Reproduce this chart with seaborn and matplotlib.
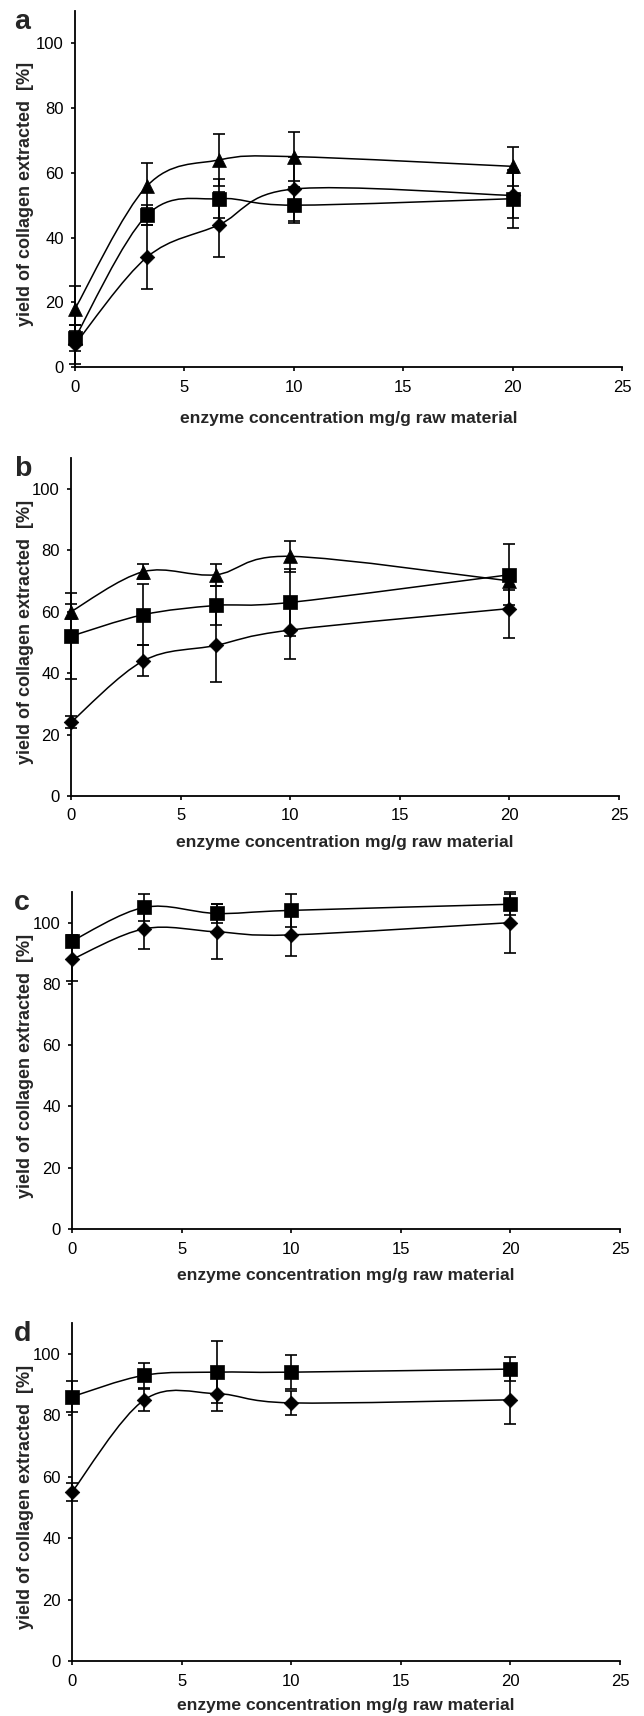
import matplotlib
matplotlib.use("Agg")
import matplotlib.pyplot as plt
from matplotlib.path import Path
from matplotlib.patches import PathPatch
import seaborn as sns
import pandas as pd

# enzyme concentration (mg/g raw material)
conc = [0, 3.3, 6.6, 10, 20]

# panel a
a_tri = [18, 56, 64, 65, 62]
a_tri_err = [7, 7, 8, 7.5, 6]
a_sq = [9, 47, 52, 50, 52]
a_sq_err = [4, 3, 6, 5.5, 9]
a_dia = [7, 34, 44, 55, 53]
a_dia_err = [6, 10, 10, 10, 7]

# panel b
b_tri = [60, 73, 72, 78, 70]
b_tri_err = [2.4, 2.5, 3.5, 5, 3]
b_sq = [52, 59, 62, 63, 72]
b_sq_err = [14, 10, 6.5, 11, 10]
b_dia = [24, 44, 49, 54, 61]
b_dia_err = [2, 5, 12, 9.5, 9.5]

# panel c
c_sq = [94, 105, 103, 104, 106]
c_sq_err = [2, 4.5, 3, 5.5, 3.5]
c_dia = [88, 98, 97, 96, 100]
c_dia_err = [7, 6.5, 9, 7, 10]

# panel d
d_sq = [86, 93, 94, 94, 95]
d_sq_err = [5, 4, 10, 5.5, 4]
d_dia = [55, 85, 87, 84, 85]
d_dia_err = [3, 3.5, 5.5, 4, 8]

panel_letters = ["a", "b", "c", "d"]
x_ticks = [0, 5, 10, 15, 20, 25]
y_ticks = [0, 20, 40, 60, 80, 100]
x_label = "enzyme concentration mg/g raw material"
y_label = "yield of collagen extracted  [%]"

W, H = 644, 1716
# axes boxes in pixels: left, right, top, bottom, x-label gap
boxes = [
    (75, 622, 11, 367, 44),
    (71, 619, 458, 796, 39),
    (72, 620, 892, 1229, 39),
    (72, 620, 1323, 1661, 37),
]


def smooth_path(xs, ys):
    # Catmull-Rom style bezier, like a spreadsheet "smoothed line"
    pts = list(zip(xs, ys))
    n = len(pts)
    verts = [pts[0]]
    codes = [Path.MOVETO]
    for i in range(n - 1):
        p0 = pts[i - 1] if i > 0 else pts[i]
        p1 = pts[i]
        p2 = pts[i + 1]
        p3 = pts[i + 2] if i + 2 < n else pts[i + 1]
        c1 = (p1[0] + (p2[0] - p0[0]) / 6, p1[1] + (p2[1] - p0[1]) / 6)
        c2 = (p2[0] - (p3[0] - p1[0]) / 6, p2[1] - (p3[1] - p1[1]) / 6)
        verts += [c1, c2, p2]
        codes += [Path.CURVE4] * 3
    return Path(verts, codes)


def draw_series(ax, y, err, marker, size):
    ax.add_patch(PathPatch(smooth_path(conc, y), fill=False, edgecolor="black",
                           lw=1.1, zorder=2))
    ax.errorbar(conc, y, yerr=err, fmt="none", ecolor="black", elinewidth=1.2,
                capsize=4.5, capthick=1.2, zorder=3, clip_on=False)
    df = pd.DataFrame({"conc": conc, "yield": y})
    sns.scatterplot(data=df, x="conc", y="yield", marker=marker, s=size,
                    color="black", edgecolor="black", linewidth=0.5,
                    ax=ax, zorder=4, clip_on=False, legend=False)


sns.set_style("ticks")
plt.rcParams["font.family"] = ["Liberation Sans", "DejaVu Sans"]

fig = plt.figure(figsize=(W / 100, H / 100), dpi=100)

panels = [
    [(a_tri, a_tri_err, "^"), (a_sq, a_sq_err, "s"), (a_dia, a_dia_err, "D")],
    [(b_tri, b_tri_err, "^"), (b_sq, b_sq_err, "s"), (b_dia, b_dia_err, "D")],
    [(c_sq, c_sq_err, "s"), (c_dia, c_dia_err, "D")],
    [(d_sq, d_sq_err, "s"), (d_dia, d_dia_err, "D")],
]
sizes = {"^": 100, "s": 90, "D": 55}

for letter, box, series in zip(panel_letters, boxes, panels):
    left, right, top, bottom, xgap = box
    ax = fig.add_axes([left / W, 1 - bottom / H, (right - left) / W, (bottom - top) / H])
    for y, err, m in series:
        draw_series(ax, y, err, m, sizes[m])
    ax.set_xlim(0, 25)
    ax.set_ylim(0, 110)
    ax.set_xticks(x_ticks)
    ax.set_yticks(y_ticks)
    sns.despine(ax=ax)
    for s in ["left", "bottom"]:
        ax.spines[s].set_linewidth(1.3)
        ax.spines[s].set_color("black")
    ax.tick_params(direction="out", length=3, width=1.2, colors="black",
                   labelsize=12)
    ax.tick_params(axis="y", pad=5)
    ax.tick_params(axis="x", pad=6)
    ax.set_xlabel(x_label, fontsize=12.6, fontweight="bold")
    ax.set_ylabel(y_label, fontsize=13, fontweight="bold")
    h = bottom - top
    ax.xaxis.set_label_coords(0.5, -xgap / h)
    ax.yaxis.set_label_coords(-(left - 34) / (right - left), 0.485)
    fig.text(14 / W, 1 - (top + 18) / H, letter, fontsize=20.5, fontweight="bold",
             ha="left", va="baseline")

fig.savefig("out.png", dpi=100)
